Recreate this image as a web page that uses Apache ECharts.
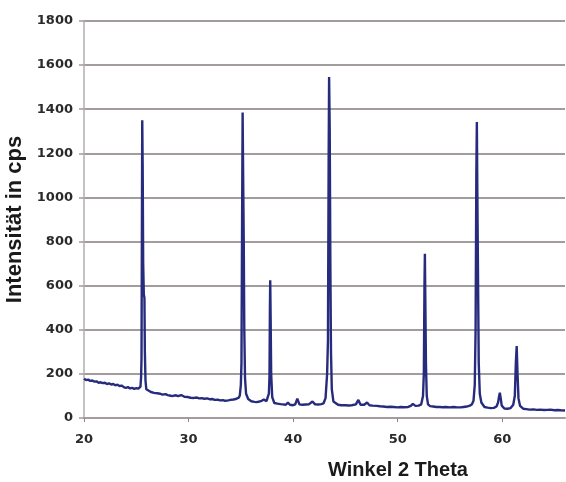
<!DOCTYPE html>
<html>
<head>
<meta charset="utf-8">
<script src="https://cdn.jsdelivr.net/npm/echarts@6/dist/echarts.min.js"></script>
<style>
  html, body { margin: 0; padding: 0; background: #fff; }
  #chart { width: 566px; height: 482px; }
</style>
</head>
<body>
<div id="chart"></div>
<script>
// XRD pattern: diffraction angle (2θ, degrees) and measured intensity (cps)
const twoTheta = [
  20.0, 20.2, 20.4, 20.6, 20.8, 21.0, 21.2, 21.4, 21.6, 21.8,
  22.0, 22.2, 22.4, 22.6, 22.8, 23.0, 23.2, 23.4, 23.6, 23.8,
  24.0, 24.2, 24.4, 24.6, 24.8, 25.0, 25.2, 25.3, 25.4, 25.46,
  25.5, 25.54, 25.57, 25.61, 25.66, 25.72, 25.78, 25.82, 25.88, 25.96,
  26.1, 26.4, 26.7, 27.0, 27.3, 27.5, 27.8, 28.0, 28.3, 28.5,
  28.8, 29.0, 29.3, 29.6, 29.9, 30.2, 30.5, 30.8, 31.0, 31.3,
  31.5, 31.8, 32.0, 32.3, 32.5, 32.8, 33.0, 33.3, 33.5, 33.8,
  34.0, 34.3, 34.5, 34.8, 34.9, 35.0, 35.06, 35.12, 35.17, 35.22,
  35.28, 35.33, 35.4, 35.5, 35.7, 36.0, 36.3, 36.5, 36.8, 37.0,
  37.2, 37.3, 37.45, 37.6, 37.68, 37.74, 37.78, 37.81, 37.85, 37.9,
  38.0, 38.2, 38.5, 38.8, 39.0, 39.3, 39.5, 39.7, 40.0, 40.2,
  40.4, 40.6, 40.9, 41.2, 41.5, 41.85, 42.1, 42.4, 42.7, 42.9,
  43.1, 43.25, 43.33, 43.4, 43.44, 43.5, 43.56, 43.62, 43.7, 43.85,
  44.0, 44.3, 44.6, 45.0, 45.3, 45.6, 46.0, 46.24, 46.45, 46.8,
  47.07, 47.3, 47.6, 48.0, 48.3, 48.6, 49.0, 49.3, 49.6, 50.0,
  50.3, 50.6, 51.0, 51.25, 51.45, 51.7, 52.0, 52.25, 52.42, 52.5,
  52.56, 52.6, 52.64, 52.7, 52.78, 52.9, 53.1, 53.4, 53.7, 54.0,
  54.3, 54.6, 55.0, 55.3, 55.6, 56.0, 56.3, 56.6, 56.9, 57.1,
  57.25, 57.37, 57.45, 57.52, 57.57, 57.62, 57.68, 57.75, 57.85, 58.0,
  58.3, 58.6, 58.9, 59.2, 59.45, 59.6, 59.7, 59.77, 59.85, 59.95,
  60.2, 60.5, 60.8, 61.05, 61.2, 61.3, 61.38, 61.46, 61.55, 61.7,
  62.0, 62.3, 62.6, 63.0, 63.3, 63.6, 64.0, 64.3, 64.6, 65.0,
  65.3, 65.6, 66.0
];

const intensity = [
  178, 172, 174, 168, 170, 165, 166, 160, 162, 158,
  160, 154, 157, 152, 154, 148, 151, 145, 147, 140,
  136, 140, 134, 137, 132, 135, 133, 136, 142, 185,
  270, 900, 1350, 1150, 700, 560, 545, 300, 170, 130,
  122, 118, 114, 112, 110, 106, 108, 104, 101, 100,
  103, 99, 104, 96, 95, 92, 91, 93, 89, 90,
  87, 89, 85, 86, 82, 83, 80, 81, 78, 80,
  82, 84, 86, 92, 102, 150, 250, 900, 1385, 1100,
  780, 400, 180, 110, 86, 76, 73, 72, 75, 78,
  84, 92, 76, 82, 110, 190, 500, 624, 450, 200,
  95, 68, 65, 63, 62, 60, 70, 60, 58, 62,
  88, 62, 60, 61, 62, 75, 62, 61, 63, 66,
  90, 200, 350, 1200, 1546, 1300, 700, 300, 130, 75,
  66, 60, 58, 58, 57, 58, 62, 82, 60, 60,
  70, 58, 56, 55, 53, 52, 50, 51, 50, 48,
  50, 49, 50, 55, 64, 55, 56, 62, 100, 200,
  600, 745, 550, 250, 100, 62, 54, 52, 50, 50,
  49, 50, 48, 50, 49, 48, 50, 52, 56, 62,
  78, 150, 400, 1100, 1342, 1000, 650, 250, 110, 70,
  50, 47, 45, 46, 52, 70, 100, 115, 90, 56,
  43, 42, 45, 60, 100, 250, 326, 200, 90, 55,
  42, 40, 38, 39, 37, 38, 36, 37, 38, 35,
  36, 35, 34
];

const xRange = { min: 20, max: 66, step: 10 };
const yRange = { min: 0, max: 1800, step: 200 };

const pattern = twoTheta.map((t, i) => [t, intensity[i]]);

const chart = echarts.init(document.getElementById('chart'), null, { renderer: 'canvas' });

const labelFont = {
  fontFamily: 'DejaVu Sans',
  fontWeight: 'bold',
  fontSize: 13,
  color: '#2a2a2a'
};
const nameFont = {
  fontFamily: 'Liberation Sans',
  fontWeight: 'bold',
  fontSize: 20,
  color: '#1a1a1a'
};

chart.setOption({
  animation: false,
  backgroundColor: '#ffffff',
  grid: {
    left: 84, right: 1, top: 21, bottom: 64,
    containLabel: false,
    outerBoundsMode: 'none'
  },
  xAxis: {
    type: 'value',
    min: xRange.min,
    max: xRange.max,
    interval: xRange.step,
    name: 'Winkel 2 Theta',
    nameLocation: 'middle',
    nameGap: 42,
    nameTextStyle: Object.assign({}, nameFont, { padding: [0, 0, 0, 147] }),
    axisLine: { show: true, lineStyle: { color: '#a39c9c', width: 2 } },
    axisTick: { show: true, length: 4, lineStyle: { color: '#8f8a8a', width: 1 } },
    axisLabel: Object.assign({}, labelFont, {
      margin: 15,
      showMaxLabel: false,
      formatter: v => String(v)
    }),
    splitLine: { show: false }
  },
  yAxis: {
    type: 'value',
    min: yRange.min,
    max: yRange.max,
    interval: yRange.step,
    name: 'Intensität in cps',
    nameLocation: 'middle',
    nameGap: 58,
    nameTextStyle: Object.assign({}, nameFont, { fontSize: 22, padding: [0, 0, 0, 0] }),
    axisLine: { show: true, lineStyle: { color: '#b3aeae', width: 1.5 } },
    axisTick: { show: true, length: 5, lineStyle: { color: '#a39c9c', width: 1.5 } },
    axisLabel: Object.assign({}, labelFont, {
      margin: 11,
      formatter: v => String(v)
    }),
    splitLine: { show: true, lineStyle: { color: '#a39c9c', width: 2 } }
  },
  series: [{
    type: 'line',
    data: pattern,
    showSymbol: false,
    smooth: false,
    lineStyle: { color: '#262b7e', width: 2.4 },
    z: 3
  }]
});
</script>
</body>
</html>
